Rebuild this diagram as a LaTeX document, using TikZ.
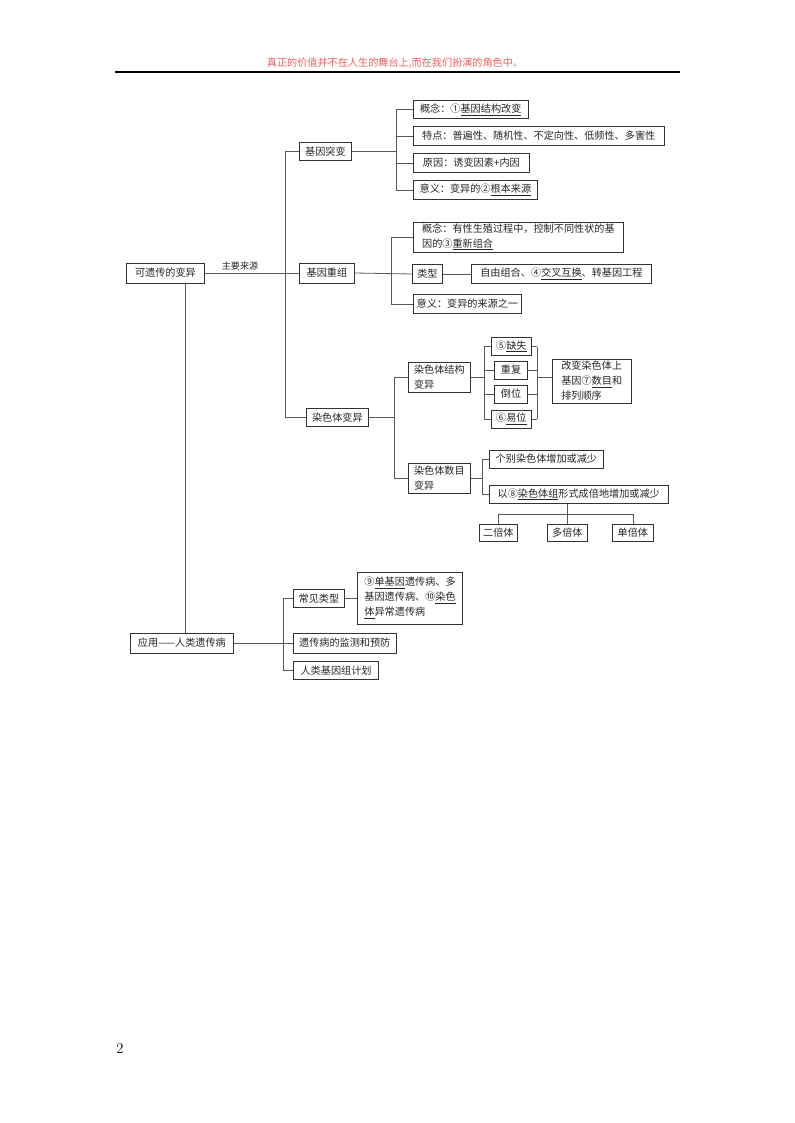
\documentclass[tikz,border=0pt]{standalone}
\usepackage{fontspec}
\newfontfamily\cjk{Noto Sans CJK SC}
\definecolor{hdr}{RGB}{240,95,95}
\begin{document}
\begin{tikzpicture}[x=0.75pt,y=-0.75pt]
\tikzset{
  bx/.style={draw=black!80, line width=0.6pt, inner xsep=2.5pt, inner ysep=1pt,
    minimum height=14pt, font=\cjk\fontsize{7.6}{11.2}\selectfont, text=black!85, anchor=west},
  ln/.style={draw=black!65, line width=0.6pt},
}
\fill[white] (0,0) rectangle (794,1123);
\useasboundingbox (0,0) rectangle (794,1123);

% header
\node[font=\cjk\fontsize{7.6}{9}\selectfont, text=hdr] (hd) at (395,63) {真正的价值并不在人生的舞台上,而在我们扮演的角色中。};
\coordinate (hl) at (115,72);
\coordinate (hr) at (680,72);
\draw[line width=0.9pt] (hl) -- (hr);
\node[font=\fontsize{11}{12}\selectfont] (pg) at (120,1049) {2};

% level 0/1
\node[bx, minimum width=58.5pt, minimum height=15pt] (root) at (126,273) {可遗传的变异};
\node[bx, minimum width=39pt] (jbtb) at (299,151.5) {基因突变};
\node[bx, minimum width=41.25pt, minimum height=15pt] (jbcz) at (299,273) {基因重组};
\node[bx, minimum width=46.5pt] (rst) at (306,417.5) {染色体变异};
\node[bx, minimum width=77.25pt, minimum height=15pt] (yy) at (130,643) {应用——人类遗传病};

% 基因突变
\node[bx, minimum width=86pt] (gn1) at (413,109.5) {概念：①\underline{基因结构改变}};
\node[bx, minimum width=188pt] (td) at (413,136) {特点：普遍性、随机性、不定向性、低频性、多害性};
\node[bx, minimum width=87pt] (yy1) at (413,163) {原因：诱变因素+内因};
\node[bx, minimum width=93pt] (yi1) at (413,190) {意义：变异的②\underline{根本来源}};

% 基因重组
\node[bx, minimum width=157.5pt, minimum height=22.5pt, align=left] (gn2) at (413,237) {概念：有性生殖过程中，控制不同性状的基\\因的③\underline{重新组合}};
\node[bx, minimum width=22.5pt] (lx) at (412,274) {类型};
\node[bx, minimum width=135pt] (zy) at (471,274) {自由组合、④\underline{交叉互换}、转基因工程};
\node[bx, minimum width=80pt] (yi2) at (413,304) {意义：变异的来源之一};

% 染色体变异
\node[bx, minimum width=46.5pt, minimum height=23pt, align=left] (jg) at (408,377.5) {染色体结构\\变异};
\node[bx, minimum width=46.5pt, minimum height=23pt, align=left] (sm) at (408,478.5) {染色体数目\\变异};
\node[bx, minimum width=30pt, minimum height=13pt] (qs) at (491,346.5) {⑤\underline{缺失}};
\node[bx, minimum width=25pt, minimum height=13.5pt] (cf) at (494,370) {重复};
\node[bx, minimum width=25pt, minimum height=13.5pt] (dw) at (494,394) {倒位};
\node[bx, minimum width=30pt, minimum height=13.5pt] (yw) at (491,419) {⑥\underline{易位}};
\node[bx, minimum width=59pt, minimum height=33pt, align=left] (gb) at (552,381) {改变染色体上\\基因⑦\underline{数目}和\\排列顺序};
\node[bx, minimum width=85.5pt, minimum height=13.5pt] (gr) at (489,459) {个别染色体增加或减少};
\node[bx, minimum width=134pt, minimum height=13.5pt] (ybs) at (489,494.5) {以⑧\underline{染色体组}形式成倍地增加或减少};
\node[bx, minimum width=28.5pt, minimum height=12.5pt] (eb) at (479,533) {二倍体};
\node[bx, minimum width=30pt, minimum height=12.5pt] (db) at (547,533) {多倍体};
\node[bx, minimum width=30.75pt, minimum height=12.5pt] (dbt) at (612,533) {单倍体};

% 应用
\node[bx, minimum width=38.25pt] (cj) at (293,598.5) {常见类型};
\node[bx, minimum width=79pt, minimum height=39pt, align=left] (d9) at (357,598) {⑨\underline{单基因}遗传病、多\\基因遗传病、⑩\underline{染色}\\\underline{体}异常遗传病};
\node[bx, minimum width=77pt, minimum height=15pt] (jc) at (293,643) {遗传病的监测和预防};
\node[bx, minimum width=64pt] (rl) at (293,670.5) {人类基因组计划};

% label
\node[font=\cjk\fontsize{6.8}{8}\selectfont, text=black!85] (zyly) at (240,266) {主要来源};

% bus coordinates
\coordinate (t0) at (285,0);
\coordinate (t1) at (396,0);
\coordinate (t2) at (391,0);
\coordinate (t3) at (394,0);
\coordinate (t4) at (484,0);
\coordinate (t5) at (537,0);
\coordinate (t6) at (482,0);
\coordinate (t7) at (283,0);
\coordinate (dn) at (185,0);
\coordinate (hz) at (0,514);

% trunk
\draw[ln] (root.east) -- (jbcz.west);
\draw[ln] (t0 |- jbtb.west) -- (t0 |- rst.west);
\draw[ln] (t0 |- jbtb.west) -- (jbtb.west);
\draw[ln] (t0 |- rst.west) -- (rst.west);
\draw[ln] (dn |- root.south) -- (dn |- yy.north);

% 基因突变 branch
\draw[ln] (jbtb.east) -- (t1 |- jbtb.east);
\draw[ln] (t1 |- gn1.west) -- (t1 |- yi1.west);
\foreach \n in {gn1,td,yy1,yi1} \draw[ln] (t1 |- \n.west) -- (\n.west);

% 基因重组 branch
\draw[ln] (jbcz.east) -- (lx.west);
\draw[ln] (t2 |- gn2.west) -- (t2 |- yi2.west);
\draw[ln] (t2 |- gn2.west) -- (gn2.west);
\draw[ln] (t2 |- yi2.west) -- (yi2.west);
\draw[ln] (lx.east) -- (zy.west);

% 染色体变异 branch
\draw[ln] (rst.east) -- (t3 |- rst.east);
\draw[ln] (t3 |- jg.west) -- (t3 |- sm.west);
\draw[ln] (t3 |- jg.west) -- (jg.west);
\draw[ln] (t3 |- sm.west) -- (sm.west);
\draw[ln] (jg.east) -- (t4 |- jg.east);
\draw[ln] (t4 |- qs.west) -- (t4 |- yw.west);
\draw[ln] (t5 |- qs.east) -- (t5 |- yw.east);
\foreach \n in {qs,cf,dw,yw} {
  \draw[ln] (t4 |- \n.west) -- (\n.west);
  \draw[ln] (\n.east) -- (t5 |- \n.east);
}
\draw[ln] (t5 |- jg.east) -- (gb.west |- jg.east);
\draw[ln] (sm.east) -- (t6 |- sm.east);
\draw[ln] (t6 |- gr.west) -- (t6 |- ybs.west);
\draw[ln] (t6 |- gr.west) -- (gr.west);
\draw[ln] (t6 |- ybs.west) -- (ybs.west);
\draw[ln] (db.north |- ybs.south) -- (db.north |- hz);
\draw[ln] (eb.north |- hz) -- (dbt.north |- hz);
\foreach \n in {eb,db,dbt} \draw[ln] (\n.north |- hz) -- (\n.north);

% 应用 branch
\draw[ln] (yy.east) -- (jc.west);
\draw[ln] (t7 |- cj.west) -- (t7 |- rl.west);
\draw[ln] (t7 |- cj.west) -- (cj.west);
\draw[ln] (t7 |- rl.west) -- (rl.west);
\draw[ln] (cj.east) -- (d9.west |- cj.east);
\end{tikzpicture}
\end{document}
